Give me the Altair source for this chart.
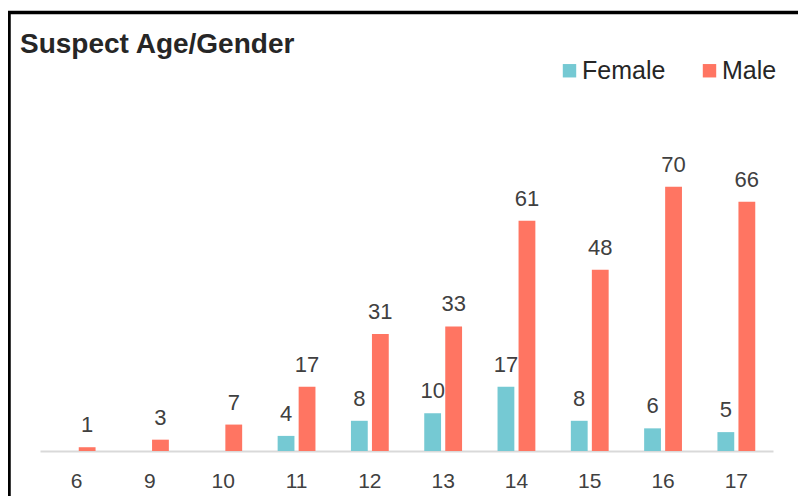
import altair as alt
import pandas as pd

ages = ["6", "9", "10", "11", "12", "13", "14", "15", "16", "17"]
female = [None, None, None, 4, 8, 10, 17, 8, 6, 5]
male = [1, 3, 7, 17, 31, 33, 61, 48, 70, 66]
genders = ["Female", "Male"]
colors = ["#75C9D3", "#FF7562"]

rows = []
for a, f, m in zip(ages, female, male):
    if f is not None:
        rows.append({"age": a, "gender": "Female", "count": f})
    if m is not None:
        rows.append({"age": a, "gender": "Male", "count": m})
df = pd.DataFrame(rows)

FONT = "Liberation Sans"

x_enc = alt.X("age:N", sort=ages, title=None,
              scale=alt.Scale(paddingInner=0.484, paddingOuter=0.242),
              axis=alt.Axis(labelAngle=0, labelFont=FONT, labelFontSize=21,
                            labelColor="#404040", ticks=False, tickSize=0,
                            labelPadding=36, labelBaseline="alphabetic",
                            domainColor="#D9D9D9", domainWidth=2, grid=False))
xoff = alt.XOffset("gender:N", sort=genders,
                   scale=alt.Scale(paddingInner=0.2, paddingOuter=0))
y_enc = alt.Y("count:Q", axis=None, scale=alt.Scale(domain=[0, 80], nice=False))
color_enc = alt.Color("gender:N", sort=genders,
                      scale=alt.Scale(domain=genders, range=colors),
                      legend=alt.Legend(title=None, orient="none", legendX=517, legendY=-91,
                                        direction="horizontal", symbolType="square",
                                        symbolSize=180, symbolStrokeWidth=0,
                                        labelFont=FONT, labelFontSize=25,
                                        labelColor="#262626", labelOffset=0,
                                        columnPadding=31, padding=0))

base = alt.Chart(df)
bars = base.mark_bar().encode(x=x_enc, xOffset=xoff, y=y_enc, color=color_enc)
labels = base.mark_text(baseline="alphabetic", dy=-15, font=FONT, fontSize=22,
                        color="#404040").encode(
    x=x_enc, xOffset=xoff, y=y_enc, text=alt.Text("count:Q"))

border = alt.Chart(pd.DataFrame({"k": [0]})).mark_rect(
    fill="transparent", stroke="#000000", strokeWidth=3.5).encode(
    x=alt.value(-31), x2=alt.value(820), y=alt.value(-136.5), y2=alt.value(500))

title = alt.Chart(pd.DataFrame({"t": ["Suspect Age/Gender"]})).mark_text(
    align="left", baseline="alphabetic", font=FONT, fontSize=28,
    fontWeight="bold", color="#262626").encode(
    x=alt.value(-20), y=alt.value(-96), text="t:N")

chart = alt.layer(border, bars, labels, title).properties(
    width=733, height=302,
    autosize=alt.AutoSizeParams(type="none"),
    padding={"left": 32, "top": 141, "right": 25, "bottom": 45},
).configure_view(stroke=None)

chart.save("out.html", embed_options={"renderer": "svg", "actions": False})
